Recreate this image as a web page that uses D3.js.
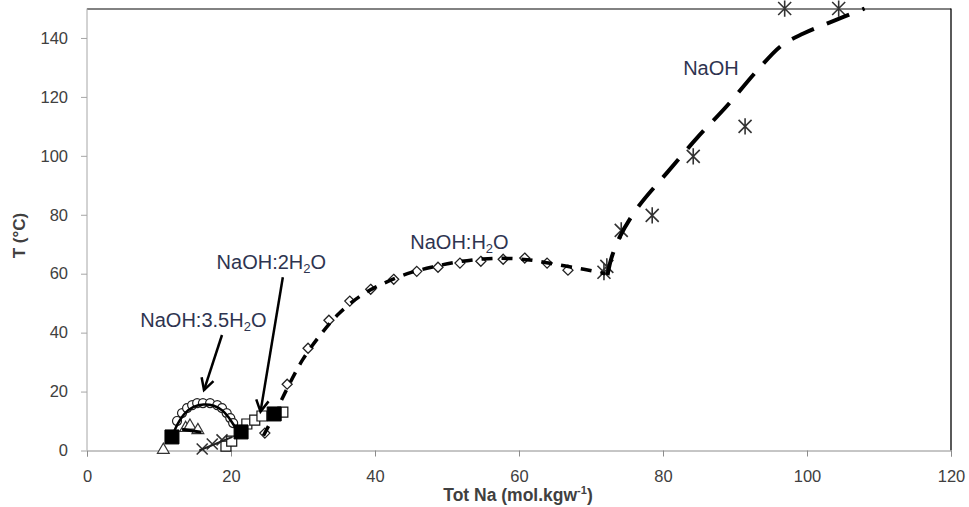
<!DOCTYPE html>
<html>
<head>
<meta charset="utf-8">
<script src="https://cdn.jsdelivr.net/npm/d3@7"></script>
<style>
  body { margin: 0; background: #fff; }
  text { font-family: "Liberation Sans", Arial, sans-serif; }
</style>
</head>
<body>
<div id="chart"></div>
<script>
// axis ticks
var xTicks = [0, 20, 40, 60, 80, 100, 120];
var yTicks = [0, 20, 40, 60, 80, 100, 120, 140];

// NaOH:H2O measured (diamonds) and model (dashed)
var h2oPoints = [[24.7,5.9],[27.8,22.5],[30.7,34.7],[33.6,44.2],[36.5,50.7],[39.4,54.7],[42.6,58.1],[45.8,60.8],[48.75,62.2],[51.8,63.6],[54.7,64.2],[57.8,64.9],[60.8,65.3],[63.9,63.6],[66.8,61.2]];
var h2oModel = [[24.5,5],[26,12],[28,22],[30,31],[32.5,39.5],[35,46.5],[38,52.5],[41,56.5],[44.5,60],[48,62.3],[51.5,64],[55,65],[58.5,65.2],[62,64.5],[65.5,63],[69,61.5],[72,60]];

// NaOH anhydrous (stars) and model (long dashes)
var naohPoints = [[71.8,60.5],[72.2,62.5],[74.2,74.7],[78.5,79.8],[84.2,99.8],[91.4,110],[96.9,150],[104.4,150]];
var naohModel = [[72.3,59.5],[72.8,65],[74,72.5],[76.5,82.5],[80.6,94.4],[84.7,106],[88.9,117],[93.1,129],[96.5,137.5],[99.5,141.5],[103.2,145.3],[108,150]];

// NaOH:3.5H2O (circles) and model (solid)
var h35Points = [[12.5,10.0],[13.2,12.7],[13.9,14.4],[14.6,15.4],[15.3,16.1],[16.1,16.1],[17.1,16.1],[18.1,15.4],[18.75,14.4],[19.4,12.7],[19.9,11.0],[20.3,9.3]];
var h35Model = [[11.8,4.6],[12.6,9],[13.6,12.6],[14.8,14.8],[16.2,15.6],[17.6,15.2],[18.8,13.6],[19.8,10.8],[20.7,7.6],[21.4,6.3]];

// other low temperature phases
var triPoints = [[10.6,0.2],[13.7,7.6],[14.3,8.4],[15.4,6.9]];
var triModel = [[13.2,7.2],[15.9,6.2]];
var crossPoints = [[16.0,0.5],[17.4,2.2],[18.75,3.6]];
var crossModel = [[15.6,0],[20.2,4.6]];
var h2Points = [[19.3,1.5],[20.1,3.2],[22.2,9.0],[23.3,10.3],[24.3,11.7],[27.2,13.0]];
var eutectics = [[11.8,4.6],[21.4,6.3],[26.0,12.4]];

// annotations
var labels = [
  {x: 82.8, y: 129.7, parts: ["NaOH"]},
  {x: 44.9, y: 70.7, parts: ["NaOH:H", "2", "O"]},
  {x: 18.0, y: 63.9, parts: ["NaOH:2H", "2", "O"]},
  {x: 7.4, y: 44.2, parts: ["NaOH:3.5H", "2", "O"]}
];
var arrows = [
  [[18.75,39.2],[16.25,20.5]],
  [[27.2,58.8],[24.1,13.2]]
];

var margin = {top: 8.5, right: 18, bottom: 56.5, left: 87},
    width = 969 - margin.left - margin.right,
    height = 507 - margin.top - margin.bottom;

var svg = d3.select("#chart")
  .append("svg")
    .attr("width", 969)
    .attr("height", 507)
  .append("g")
    .attr("transform", "translate(" + margin.left + "," + margin.top + ")");

var x = d3.scaleLinear().domain([0, 120]).range([0, width]);
var y = d3.scaleLinear().domain([0, 150]).range([height, 0]);

// frame: top and right borders
svg.append("line").attr("x1", 0).attr("x2", width).attr("y1", 0.5).attr("y2", 0.5)
  .attr("stroke", "#595959").attr("stroke-width", 1.3);
svg.append("line").attr("x1", width).attr("x2", width).attr("y1", 0).attr("y2", height)
  .attr("stroke", "#000").attr("stroke-width", 1.3);

// X axis
var xAxis = svg.append("g")
  .attr("transform", "translate(0," + height + ")")
  .call(d3.axisBottom(x).tickValues(xTicks).tickSize(6).tickPadding(14));
xAxis.select(".domain").attr("stroke", "#8c8c8c");
xAxis.selectAll(".tick line").attr("stroke", "#8c8c8c");
xAxis.selectAll(".tick text").attr("font-size", 16.5).attr("fill", "#404040")
  .attr("font-family", "Liberation Sans, Arial, sans-serif");

// Y axis
var yAxis = svg.append("g")
  .call(d3.axisLeft(y).tickValues(yTicks).tickSize(6).tickPadding(13));
yAxis.select(".domain").attr("stroke", "#a6a6a6").attr("d", "M0," + height + "V0");
yAxis.selectAll(".tick line").attr("stroke", "#a6a6a6");
yAxis.selectAll(".tick text").attr("font-size", 16.5).attr("fill", "#404040")
  .attr("font-family", "Liberation Sans, Arial, sans-serif");

// axis titles
var xt = svg.append("text")
  .attr("x", x(60) - 1)
  .attr("y", height + 50)
  .attr("text-anchor", "middle")
  .attr("font-size", 17.5)
  .attr("font-weight", "bold")
  .attr("fill", "#404040");
xt.append("tspan").text("Tot Na (mol.kgw");
xt.append("tspan").attr("font-size", 11).attr("dy", -7).text("-1");
xt.append("tspan").attr("dy", 7).text(")");

svg.append("text")
  .attr("transform", "translate(" + (-margin.left + 25) + "," + (height / 2 + 6) + ") rotate(-90)")
  .attr("text-anchor", "middle")
  .attr("font-size", 17)
  .attr("font-weight", "bold")
  .attr("fill", "#404040")
  .text("T (°C)");

var line = d3.line()
  .x(function(d) { return x(d[0]); })
  .y(function(d) { return y(d[1]); })
  .curve(d3.curveCatmullRom);

// markers
function diamond(s) { return "M0," + (-s) + "L" + s + ",0L0," + s + "L" + (-s) + ",0Z"; }
function star(s) { return "M" + (-s) + "," + (-s) + "L" + s + "," + s + "M" + (-s) + "," + s + "L" + s + "," + (-s) + "M0," + (-s * 1.25) + "L0," + (s * 1.25); }
function cross(s) { return "M" + (-s) + "," + (-s) + "L" + s + "," + s + "M" + (-s) + "," + s + "L" + s + "," + (-s); }

function drawMarkers(data, path, fill, stroke, sw) {
  svg.append("g").selectAll("path")
    .data(data)
    .enter()
    .append("path")
    .attr("transform", function(d) { return "translate(" + x(d[0]) + "," + y(d[1]) + ")"; })
    .attr("d", path)
    .attr("fill", fill)
    .attr("stroke", stroke)
    .attr("stroke-width", sw);
}

drawMarkers(h2oPoints, diamond(5), "#fff", "#222", 1.3);
drawMarkers(naohPoints, star(6.5), "none", "#333", 1.6);
drawMarkers(h35Points, d3.symbol().type(d3.symbolCircle).size(64)(), "#fff", "#222", 1.2);
drawMarkers(triPoints, d3.symbol().type(d3.symbolTriangle).size(60)(), "#fff", "#333", 1.2);
drawMarkers(crossPoints, cross(5.5), "none", "#333", 1.6);
drawMarkers(h2Points, "M-5,-5H5V5H-5Z", "#fff", "#111", 1.2);
drawMarkers(eutectics, "M-7,-7H7V7H-7Z", "#000", "#000", 1);

// model curves
svg.append("path").datum(h2oModel)
  .attr("fill", "none").attr("stroke", "#000").attr("stroke-width", 3.5)
  .attr("stroke-dasharray", "11,9").attr("d", line);
svg.append("path").datum(naohModel)
  .attr("fill", "none").attr("stroke", "#000").attr("stroke-width", 4)
  .attr("stroke-dasharray", "24,14").attr("d", line);
svg.append("path").datum(h35Model)
  .attr("fill", "none").attr("stroke", "#000").attr("stroke-width", 2.5).attr("d", line);
svg.append("path").datum(triModel)
  .attr("fill", "none").attr("stroke", "#000").attr("stroke-width", 3).attr("d", line);
svg.append("path").datum(crossModel)
  .attr("fill", "none").attr("stroke", "#222").attr("stroke-width", 2).attr("d", line);

// arrows
arrows.forEach(function(a) {
  var x1 = x(a[0][0]), y1 = y(a[0][1]), x2 = x(a[1][0]), y2 = y(a[1][1]);
  var ang = Math.atan2(y2 - y1, x2 - x1), len = 13, spread = 0.5;
  svg.append("line").attr("x1", x1).attr("y1", y1).attr("x2", x2).attr("y2", y2)
    .attr("stroke", "#000").attr("stroke-width", 2.5);
  svg.append("path")
    .attr("d", "M" + (x2 - len * Math.cos(ang - spread)) + "," + (y2 - len * Math.sin(ang - spread)) +
      "L" + x2 + "," + y2 +
      "L" + (x2 - len * Math.cos(ang + spread)) + "," + (y2 - len * Math.sin(ang + spread)))
    .attr("fill", "none").attr("stroke", "#000").attr("stroke-width", 2.5)
    .attr("stroke-linejoin", "miter");
});

// phase labels
labels.forEach(function(l) {
  var t = svg.append("text")
    .attr("x", x(l.x))
    .attr("y", y(l.y) + 7)
    .attr("font-size", 20)
    .attr("fill", "#2e3450");
  t.append("tspan").text(l.parts[0]);
  if (l.parts.length > 1) {
    t.append("tspan").attr("font-size", 13).attr("dy", 4).text(l.parts[1]);
    t.append("tspan").attr("dy", -4).text(l.parts[2]);
  }
});
</script>
</body>
</html>
